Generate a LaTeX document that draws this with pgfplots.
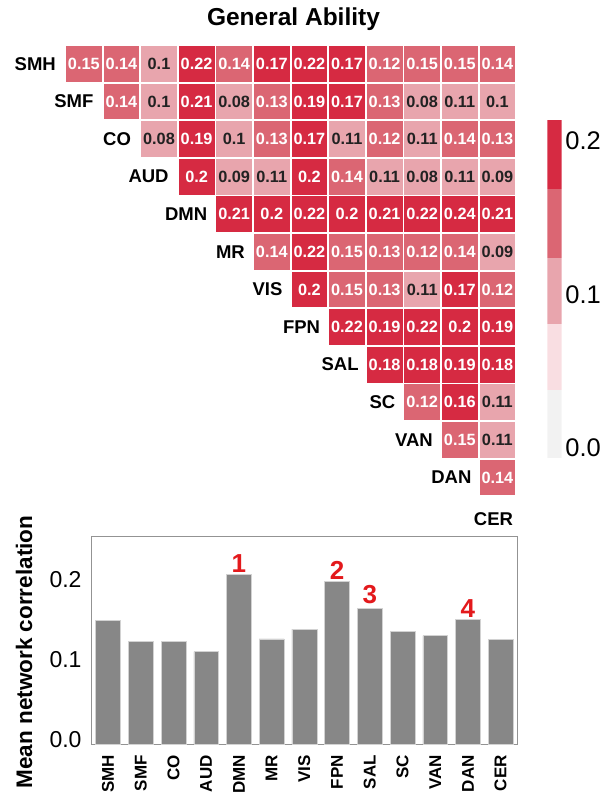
\documentclass[border=0pt]{standalone}
\usepackage{fontspec}
\setmainfont{Liberation Sans}
\usepackage{pgfplots}
\pgfplotsset{compat=1.18}
\definecolor{cDark}{HTML}{D62A42}
\definecolor{cMed}{HTML}{DB6673}
\definecolor{cLight}{HTML}{E8A5AD}
\definecolor{cVLight}{HTML}{F9DEE2}
\definecolor{cGray}{HTML}{F2F2F2}
\definecolor{barGray}{HTML}{878787}
\definecolor{numRed}{HTML}{E3191C}
\definecolor{txtDark}{HTML}{222222}
\newcommand{\fs}[1]{\fontsize{#1}{#1}\selectfont}
\begin{document}
\begin{tikzpicture}[x=1pt,y=1pt]
\useasboundingbox (0,0) rectangle (607,-796);
\node[font=\bfseries\fs{24.5}] at (293.5,-19) {General Ability};

% ---------------- heatmap ----------------
\begin{axis}[at={(65pt,-45pt)}, anchor=north west, scale only axis,
  width=451.2pt, height=451.2pt,
  xmin=0.5, xmax=12.5, ymin=0.5, ymax=12.5, y dir=reverse,
  hide axis, clip=false,
  point meta=explicit symbolic,
  nodes near coords, nodes near coords align=center,
  every node near coord/.append style={font=\bfseries\fs{16.3}, inner sep=0pt, anchor=center},
  mark size=18.4pt]
% dark cells (>= 0.16)
\addplot[only marks, mark=square*, mark options={fill=cDark, draw=white, line width=0.8pt},
  every node near coord/.append style={text=white}] coordinates {
(4,1) [0.22] (6,1) [0.17] (7,1) [0.22] (8,1) [0.17]
(4,2) [0.21] (7,2) [0.19] (8,2) [0.17]
(4,3) [0.19] (7,3) [0.17]
(4,4) [0.2] (7,4) [0.2]
(5,5) [0.21] (6,5) [0.2] (7,5) [0.22] (8,5) [0.2] (9,5) [0.21] (10,5) [0.22] (11,5) [0.24] (12,5) [0.21]
(7,6) [0.22]
(7,7) [0.2] (11,7) [0.17]
(8,8) [0.22] (9,8) [0.19] (10,8) [0.22] (11,8) [0.2] (12,8) [0.19]
(9,9) [0.18] (10,9) [0.18] (11,9) [0.19] (12,9) [0.18]
(11,10) [0.16]
};
% medium cells (0.12 - 0.15)
\addplot[only marks, mark=square*, mark options={fill=cMed, draw=white, line width=0.8pt},
  every node near coord/.append style={text=white}] coordinates {
(1,1) [0.15] (2,1) [0.14] (5,1) [0.14] (9,1) [0.12] (10,1) [0.15] (11,1) [0.15] (12,1) [0.14]
(2,2) [0.14] (6,2) [0.13] (9,2) [0.13]
(6,3) [0.13] (9,3) [0.12] (11,3) [0.14] (12,3) [0.13]
(8,4) [0.14]
(6,6) [0.14] (8,6) [0.15] (9,6) [0.13] (10,6) [0.12] (11,6) [0.14]
(8,7) [0.15] (9,7) [0.13] (12,7) [0.12]
(10,10) [0.12]
(11,11) [0.15]
(12,12) [0.14]
};
% light cells (<= 0.11)
\addplot[only marks, mark=square*, mark options={fill=cLight, draw=white, line width=0.8pt},
  every node near coord/.append style={text=txtDark}] coordinates {
(3,1) [0.1]
(3,2) [0.1] (5,2) [0.08] (10,2) [0.08] (11,2) [0.11] (12,2) [0.1]
(3,3) [0.08] (5,3) [0.1] (8,3) [0.11] (10,3) [0.11]
(5,4) [0.09] (6,4) [0.11] (9,4) [0.11] (10,4) [0.08] (11,4) [0.11] (12,4) [0.09]
(12,6) [0.09]
(10,7) [0.11]
(12,10) [0.11]
(12,11) [0.11]
};
\begin{scope}[every node/.style={font=\bfseries\fs{18.5}, inner sep=0pt, anchor=east}]
\node[xshift=-9pt] at (axis cs:0.5,1) {SMH};
\node[xshift=-9pt] at (axis cs:1.5,2) {SMF};
\node[xshift=-9pt] at (axis cs:2.5,3) {CO};
\node[xshift=-9pt] at (axis cs:3.5,4) {AUD};
\node[xshift=-8pt] at (axis cs:4.5,5) {DMN};
\node[xshift=-8pt] at (axis cs:5.5,6) {MR};
\node[xshift=-8pt] at (axis cs:6.5,7) {VIS};
\node[xshift=-8pt] at (axis cs:7.5,8) {FPN};
\node[xshift=-7pt] at (axis cs:8.5,9) {SAL};
\node[xshift=-8pt] at (axis cs:9.5,10) {SC};
\node[xshift=-8pt] at (axis cs:10.5,11) {VAN};
\node[xshift=-7pt] at (axis cs:11.5,12) {DAN};
\node[xshift=-3pt] at (axis cs:12.5,13.1) {CER};
\end{scope}
\end{axis}

% ---------------- colorbar ----------------
\begin{axis}[at={(547.3pt,-120pt)}, anchor=north west, scale only axis,
  width=14.4pt, height=338pt,
  xmin=0, xmax=1, ymin=-0.0065, ymax=0.2137,
  xtick=\empty, ytick={0,0.1,0.2}, yticklabels={0.0,0.1,0.2},
  yticklabel pos=right, major tick length=0pt,
  axis line style={draw=none},
  yticklabel style={font=\fs{25.5}, inner sep=0pt},
  yticklabel shift=3.5pt]
\addplot[fill=cGray, draw=none] coordinates {(0,-0.0065) (1,-0.0065) (1,0.038) (0,0.038)} -- cycle;
\addplot[fill=cVLight, draw=none] coordinates {(0,0.038) (1,0.038) (1,0.081) (0,0.081)} -- cycle;
\addplot[fill=cLight, draw=none] coordinates {(0,0.081) (1,0.081) (1,0.124) (0,0.124)} -- cycle;
\addplot[fill=cMed, draw=none] coordinates {(0,0.124) (1,0.124) (1,0.169) (0,0.169)} -- cycle;
\addplot[fill=cDark, draw=none] coordinates {(0,0.169) (1,0.169) (1,0.2137) (0,0.2137)} -- cycle;
\end{axis}

% ---------------- bar chart ----------------
\begin{axis}[at={(91.7pt,-536.7pt)}, anchor=north west, scale only axis,
  width=425.3pt, height=207.3pt,
  xmin=-0.5, xmax=12.5, ymin=0, ymax=0.258,
  ytick={0,0.1,0.2}, yticklabels={0.0,0.1,0.2},
  xtick={0,...,12},
  xticklabels={SMH,SMF,CO,AUD,DMN,MR,VIS,FPN,SAL,SC,VAN,DAN,CER},
  major tick length=0pt,
  axis line style={draw=gray!85, line width=0.8pt},
  ybar, bar width=24.8pt, clip=false,
  xticklabel style={rotate=90, anchor=east, font=\bfseries\fs{17}, inner sep=0pt},
  xticklabel shift=11pt,
  yticklabel style={font=\fs{23}, inner sep=0pt, yshift=4pt},
  yticklabel shift=10pt]
\addplot[fill=barGray, draw=gray!35, line width=0.5pt] coordinates {
(0,0.154) (1,0.128) (2,0.1275) (3,0.115) (4,0.211) (5,0.131) (6,0.143)
(7,0.202) (8,0.169) (9,0.140) (10,0.135) (11,0.155) (12,0.130)};
\begin{scope}[every node/.style={anchor=south, text=numRed, font=\bfseries\fs{26}, inner sep=2pt}]
\node at (axis cs:4,0.211) {1};
\node at (axis cs:7,0.202) {2};
\node[inner sep=4pt] at (axis cs:8,0.169) {3};
\node at (axis cs:11,0.155) {4};
\end{scope}
\end{axis}
\node[rotate=90, font=\bfseries\fs{22.5}] at (24,-652) {Mean network correlation};
\end{tikzpicture}
\end{document}
